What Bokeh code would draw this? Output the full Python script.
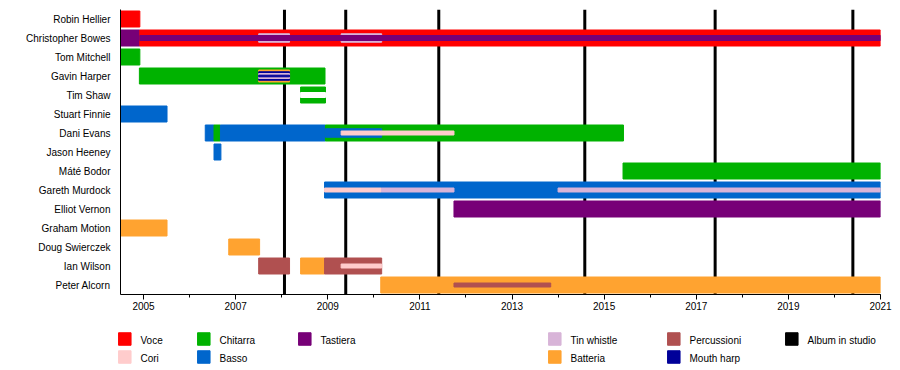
from bokeh.plotting import figure
from bokeh.models import ColumnDataSource, FactorRange, Range1d, FixedTicker, Span
from bokeh.layouts import column
from bokeh.core.properties import value
from bokeh.embed import file_html
from bokeh.resources import INLINE

# ---------------- data ----------------
members = ["Robin Hellier", "Christopher Bowes", "Tom Mitchell", "Gavin Harper",
           "Tim Shaw", "Stuart Finnie", "Dani Evans", "Jason Heeney", "Máté Bodor",
           "Gareth Murdock", "Elliot Vernon", "Graham Motion", "Doug Swierczek",
           "Ian Wilson", "Peter Alcorn"]

# main (full-height) bars
bar_member = ["Robin Hellier", "Christopher Bowes", "Christopher Bowes", "Tom Mitchell",
              "Gavin Harper", "Tim Shaw", "Stuart Finnie", "Dani Evans", "Dani Evans",
              "Dani Evans", "Dani Evans", "Jason Heeney", "Máté Bodor", "Gareth Murdock",
              "Elliot Vernon", "Graham Motion", "Doug Swierczek", "Ian Wilson", "Ian Wilson",
              "Ian Wilson", "Peter Alcorn"]
bar_role = ["Voce", "Tastiera", "Voce", "Chitarra",
            "Chitarra", "Chitarra", "Basso", "Basso", "Chitarra",
            "Basso", "Chitarra", "Basso", "Chitarra", "Basso",
            "Tastiera", "Batteria", "Batteria", "Percussioni", "Batteria",
            "Percussioni", "Batteria"]
bar_start = [2004.5, 2004.5, 2004.92, 2004.5,
             2004.91, 2008.41, 2004.5, 2006.34, 2006.53,
             2006.67, 2008.95, 2006.53, 2015.41, 2008.93,
             2011.74, 2004.5, 2006.85, 2007.50, 2008.41,
             2008.93, 2010.15]
bar_end = [2004.92, 2004.92, 2021.0, 2004.92,
           2008.94, 2008.95, 2005.51, 2006.53, 2006.67,
           2008.95, 2015.42, 2006.68, 2021.0, 2021.0,
           2021.0, 2005.51, 2007.52, 2008.17, 2008.93,
           2010.17, 2021.0]

# secondary roles (stripes inside bars)
stripe_member = ["Gavin Harper", "Christopher Bowes", "Christopher Bowes", "Gavin Harper",
                 "Dani Evans", "Christopher Bowes", "Gavin Harper", "Tim Shaw",
                 "Dani Evans", "Gareth Murdock", "Gareth Murdock", "Gareth Murdock",
                 "Ian Wilson", "Peter Alcorn", "Gavin Harper"]
stripe_role = ["Batteria", "Tin whistle", "Tin whistle", "Mouth harp",
               "Basso", "Tastiera", "Tin whistle", "",
               "Cori", "Cori", "Tin whistle", "Tin whistle",
               "Cori", "Percussioni", "Mouth harp"]
stripe_start = [2007.50, 2007.50, 2009.29, 2007.50,
                2008.95, 2004.92, 2007.50, 2008.41,
                2009.29, 2008.93, 2010.17, 2014.00,
                2009.29, 2011.74, 2007.50]
stripe_end = [2008.17, 2008.17, 2010.17, 2008.17,
              2010.17, 2021.0, 2008.17, 2008.95,
              2011.74, 2010.17, 2011.74, 2021.0,
              2010.17, 2013.84, 2008.17]
stripe_tier = ["wide", "mid", "mid", "mid",
               "mid", "narrow", "narrow", "narrow",
               "thin", "thin", "thin", "thin",
               "thin", "thin", "core"]

albums = [2008.06, 2009.39, 2011.41, 2014.58, 2017.41, 2020.40]

year_ticks = [2005, 2007, 2009, 2011, 2013, 2015, 2017, 2019, 2021]
minor_years = [2004, 2005, 2006, 2007, 2008, 2009, 2010, 2011, 2012, 2013, 2014,
               2015, 2016, 2017, 2018, 2019, 2020, 2021]

legend_labels = [["Voce", "Cori"], ["Chitarra", "Basso"], ["Tastiera"],
                 ["Tin whistle", "Batteria"], ["Percussioni", "Mouth harp"],
                 ["Album in studio"]]

# ---------------- styles ----------------
role_color = {
    "Voce": "#ff0000", "Cori": "#ffcccc", "Chitarra": "#00b200", "Basso": "#0066cc",
    "Tastiera": "#770077", "Tin whistle": "#d8b4d8", "Batteria": "#ffa330",
    "Percussioni": "#b05050", "Mouth harp": "#000099", "Album in studio": "#000000",
    "": "#ffffff",
}
ROW = 19.0
tier_height = {"wide": 12 / ROW, "mid": 8.5 / ROW, "narrow": 5 / ROW,
               "thin": 4 / ROW, "core": 1.6 / ROW}
FONT = "Liberation Sans"

p = figure(y_range=FactorRange(factors=list(reversed(members))),
           x_range=Range1d(2004.5, 2021.0),
           frame_width=760, frame_height=285,
           min_border_left=120, min_border_right=12, min_border_top=9, min_border_bottom=20,
           output_backend="svg", toolbar_location=None)
p.frame_align = False
p.outline_line_color = None
p.xgrid.visible = False
p.ygrid.visible = False

for a in albums:
    p.add_layout(Span(location=a, dimension="height", line_color="black",
                      line_width=3, level="underlay"))

bars = ColumnDataSource(dict(y=bar_member, left=bar_start, right=bar_end,
                             color=[role_color[r] for r in bar_role]))
p.hbar(y="y", left="left", right="right", height=16 / ROW, color="color", source=bars)

for tier in ["wide", "mid", "narrow", "thin", "core"]:
    idx = [i for i, t in enumerate(stripe_tier) if t == tier]
    src = ColumnDataSource(dict(y=[stripe_member[i] for i in idx],
                                left=[stripe_start[i] for i in idx],
                                right=[stripe_end[i] for i in idx],
                                color=[role_color[stripe_role[i]] for i in idx]))
    p.hbar(y="y", left="left", right="right", height=tier_height[tier],
           color="color", source=src)

p.xaxis.ticker = FixedTicker(ticks=year_ticks, minor_ticks=minor_years)
p.xaxis.major_tick_out = 5
p.xaxis.major_tick_in = 0
p.xaxis.minor_tick_out = 3
p.xaxis.minor_tick_in = 0
p.xaxis.major_label_standoff = 2
p.xaxis.major_label_text_font = FONT
p.xaxis.major_label_text_font_size = "10px"
p.xaxis.major_label_text_color = "#000000"
p.xaxis.axis_line_color = "#000000"
p.xaxis.major_tick_line_color = "#000000"
p.xaxis.minor_tick_line_color = "#000000"

p.yaxis.major_tick_out = 0
p.yaxis.major_tick_in = 0
p.yaxis.major_label_standoff = 10
p.yaxis.major_label_text_font = FONT
p.yaxis.major_label_text_font_size = "10px"
p.yaxis.major_label_text_color = "#000000"
p.yaxis.axis_line_color = "#000000"

# ---------------- legend (pixel coordinates of the legend strip) ----------------
LW, LH = 892, 56
lg = figure(x_range=Range1d(0, LW), y_range=Range1d(LH, 0),
            frame_width=LW, frame_height=LH, min_border=0,
            min_border_left=0, min_border_right=0, min_border_top=0, min_border_bottom=0,
            x_axis_type=None, y_axis_type=None,
            output_backend="svg", toolbar_location=None)
lg.frame_align = False
lg.outline_line_color = None
lg.xgrid.visible = False
lg.ygrid.visible = False

col_x = [118, 197, 298, 548, 667, 785]   # swatch left edge
row_y = [24.5, 42.5]                      # swatch centre
sx, sy, tx, ty, tt, sc = [], [], [], [], [], []
for ci, labels in enumerate(legend_labels):
    for ri, lab in enumerate(labels):
        sx.append(col_x[ci] + 6.3)
        sy.append(row_y[ri])
        sc.append(role_color[lab])
        tx.append(col_x[ci] + 22)
        ty.append(row_y[ri] + 1)
        tt.append(lab)
lg.rect(x=sx, y=sy, width=12.5, height=12.5, color=sc)
lg.text(x=tx, y=ty, text=tt, text_font=value(FONT), text_font_size="10px",
        text_baseline="middle", text_align="left", text_color="#000000")

layout = column(p, lg, spacing=0)
open("out.html", "w").write(file_html(layout, INLINE))
